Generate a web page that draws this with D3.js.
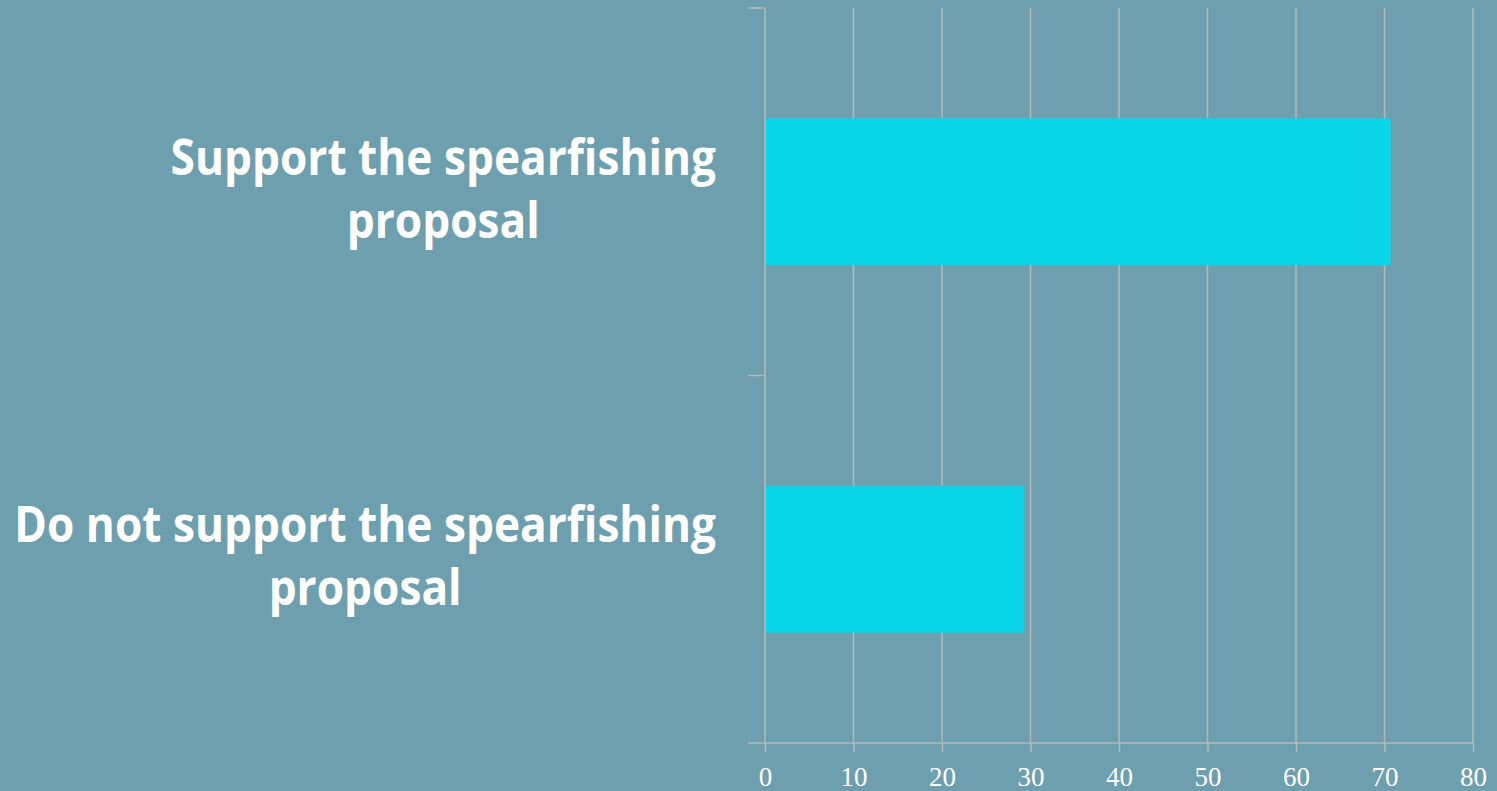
<!DOCTYPE html>
<html>
<head>
<meta charset="utf-8">
<script src="https://cdn.jsdelivr.net/npm/d3@7"></script>
<style>
  html, body { margin: 0; padding: 0; background: #6e9fae; overflow: hidden; }
  svg { display: block; }
</style>
</head>
<body>
<div id="chart"></div>
<script>
// 数据
const categories = [
  ["Support the spearfishing", "proposal"],
  ["Do not support the spearfishing", "proposal"]
];
const values = [70.7, 29.3];
const xTicks = [0, 10, 20, 30, 40, 50, 60, 70, 80];

const width = 1497, height = 791;
const margin = { top: 8, right: 24, bottom: 48, left: 765 };

const svg = d3.select("#chart")
  .append("svg")
  .attr("width", width)
  .attr("height", height);

svg.append("rect")
  .attr("width", width)
  .attr("height", height)
  .attr("fill", "#6e9fae");

const x = d3.scaleLinear()
  .domain([0, 80])
  .range([margin.left, 1473]);

const y = d3.scaleBand()
  .domain(d3.range(categories.length))
  .range([margin.top, height - margin.bottom])
  .padding(0);

const axisColor = "#b9b9b9";

// 网格线
svg.append("g")
  .selectAll("line")
  .data(xTicks.slice(1))
  .join("line")
  .attr("x1", d => x(d))
  .attr("x2", d => x(d))
  .attr("y1", margin.top)
  .attr("y2", height - margin.bottom)
  .attr("stroke", axisColor)
  .attr("stroke-width", 1.5);

// 柱子
svg.append("g")
  .selectAll("rect")
  .data(values)
  .join("rect")
  .attr("x", x(0))
  .attr("y", (d, i) => y(i) + y.bandwidth() * 0.3)
  .attr("width", d => x(d) - x(0))
  .attr("height", y.bandwidth() * 0.4)
  .attr("fill", "#0ad5e9");

// x 轴
const xAxis = svg.append("g")
  .attr("transform", `translate(0,${height - margin.bottom})`)
  .call(d3.axisBottom(x).tickValues(xTicks).tickSize(9).tickSizeOuter(0));
xAxis.select(".domain").remove();
xAxis.append("line")
  .attr("x1", 748).attr("x2", x(80))
  .attr("stroke", axisColor).attr("stroke-width", 1.5);
xAxis.selectAll(".tick line").attr("stroke", axisColor).attr("stroke-width", 1.5);
xAxis.selectAll(".tick text")
  .attr("y", 43)
  .attr("dy", 0)
  .attr("fill", "#ffffff")
  .attr("font-family", "'Liberation Serif', serif")
  .attr("font-size", 27);

// y 轴
const yEdges = [margin.top, y(1), height - margin.bottom];
svg.append("line")
  .attr("x1", x(0)).attr("x2", x(0))
  .attr("y1", margin.top).attr("y2", height - margin.bottom)
  .attr("stroke", axisColor).attr("stroke-width", 1.5);
svg.append("g")
  .selectAll("line")
  .data(yEdges.slice(0, 2))
  .join("line")
  .attr("x1", 748).attr("x2", x(0))
  .attr("y1", d => d).attr("y2", d => d)
  .attr("stroke", axisColor).attr("stroke-width", 1.5);

// 类别标签
const baseFs = 44;
const groups = svg.append("g")
  .selectAll("g")
  .data(categories)
  .join("g")
  .attr("transform", (d, i) => `translate(0,${y(i) + y.bandwidth() / 2})`);

const lineOffsets = [-17, 46];
groups.selectAll("text")
  .data(d => d)
  .join("text")
  .text(d => d)
  .attr("fill", "#ffffff")
  .attr("font-family", "'Open Sans', sans-serif")
  .attr("font-weight", 700)
  .attr("font-size", baseFs)
  .attr("text-anchor", "middle");

// 按最长一行调整字号，右边缘落在 716，并纵向拉伸到参考的字高
const longest = groups.nodes()[1].querySelector("text");
const fs = baseFs * 702 / longest.getComputedTextLength();
const sy = 36 / (0.714 * fs);
groups.selectAll("text").attr("font-size", fs);

groups.each(function () {
  const texts = d3.select(this).selectAll("text");
  const w0 = d3.max(texts.nodes(), n => n.getComputedTextLength());
  const cx = 716 - w0 / 2;
  texts.attr("transform", (d, k) => `translate(${cx},${lineOffsets[k]}) scale(1,${sy})`);
});
</script>
</body>
</html>
